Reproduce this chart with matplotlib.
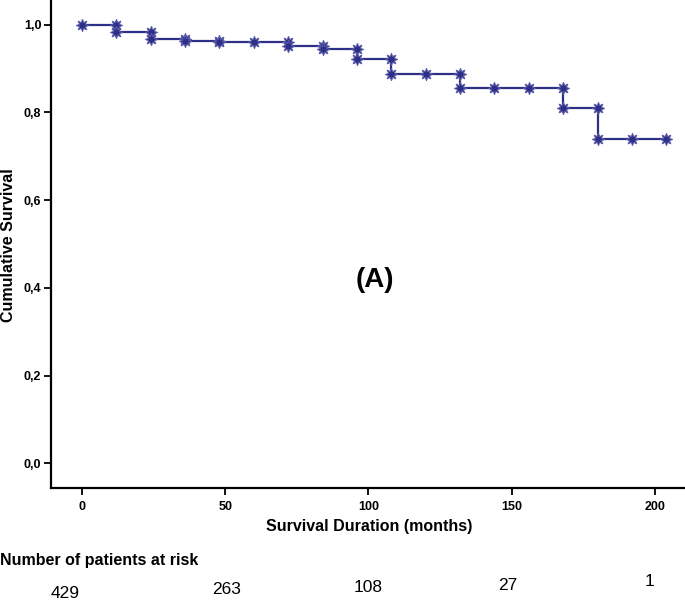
import matplotlib
matplotlib.use("Agg")
import matplotlib.pyplot as plt

plt.rcParams["font.family"] = ["Liberation Sans", "DejaVu Sans"]

# Kaplan-Meier step curve (months, cumulative survival)
step_t = [0, 12, 24, 36, 48, 72, 84, 96, 108, 132, 168, 180, 204]
step_s = [1.0, 0.984, 0.968, 0.963, 0.960, 0.952, 0.944, 0.921, 0.8875, 0.855, 0.811, 0.740, 0.740]

# censor marks
cens_t = [0, 12, 12, 24, 24, 36, 36, 48, 48, 60, 72, 72, 84, 84, 96, 96,
          108, 108, 120, 132, 132, 144, 156, 168, 168, 180, 180, 192, 204]
cens_s = [1.0, 1.0, 0.984, 0.984, 0.968, 0.968, 0.963, 0.962, 0.960, 0.960,
          0.960, 0.952, 0.952, 0.944, 0.944, 0.921, 0.921, 0.8875, 0.8875,
          0.8875, 0.855, 0.855, 0.855, 0.855, 0.811, 0.811, 0.740, 0.740, 0.740]

yticks = [0.0, 0.2, 0.4, 0.6, 0.8, 1.0]
xticks = [0, 50, 100, 150, 200]

risk_n = ["429", "263", "108", "27", "1"]

navy = "#2e3088"

fig = plt.figure(figsize=(6.85, 6.02), dpi=100)
ax = fig.add_axes([51 / 685, 1 - 488 / 602, 1 - 51 / 685, 488 / 602])

ax.step(step_t, step_s, where="post", color=navy, lw=1.6, zorder=2)
ax.plot(cens_t, cens_s, ls="none", marker=(8, 1, 0), ms=9, color=navy,
        mec="#5a5ca8", mew=0.7, zorder=3)

ax.set_xlim(-10.8, 210.5)
ax.set_ylim(-0.056, 1.056)
ax.set_xticks(xticks)
ax.set_yticks(yticks)
ax.set_yticklabels([f"{v:.1f}".replace(".", ",") for v in yticks])
for sp in ["top", "right"]:
    ax.spines[sp].set_visible(False)
for sp in ["left", "bottom"]:
    ax.spines[sp].set_linewidth(1.6)
ax.tick_params(direction="out", length=5, width=1.3, labelsize=9, pad=2)
ax.tick_params(axis="x", pad=4)
for lb in ax.get_xticklabels() + ax.get_yticklabels():
    lb.set_fontweight("bold")

ax.text(102.3, 0.419, "(A)", fontsize=20, fontweight="bold", ha="center", va="center")

fig.text(9 / 685, 1 - 245 / 602, "Cumulative Survival", rotation=90, fontsize=11.5,
         fontweight="bold", ha="center", va="center")
fig.text(369 / 685, 1 - 527 / 602, "Survival Duration (months)", fontsize=11.5,
         fontweight="bold", ha="center", va="center")
fig.text(0, 1 - 561 / 602, "Number of patients at risk", fontsize=11.5,
         fontweight="bold", ha="left", va="center")

risk_x = [65, 227, 368, 508, 650]
risk_y = [594, 590, 588, 585, 581]
for x, y, n in zip(risk_x, risk_y, risk_n):
    fig.text(x / 685, 1 - y / 602, n, fontsize=12.5, ha="center", va="center")

fig.savefig("out.png", dpi=100, facecolor="white")
